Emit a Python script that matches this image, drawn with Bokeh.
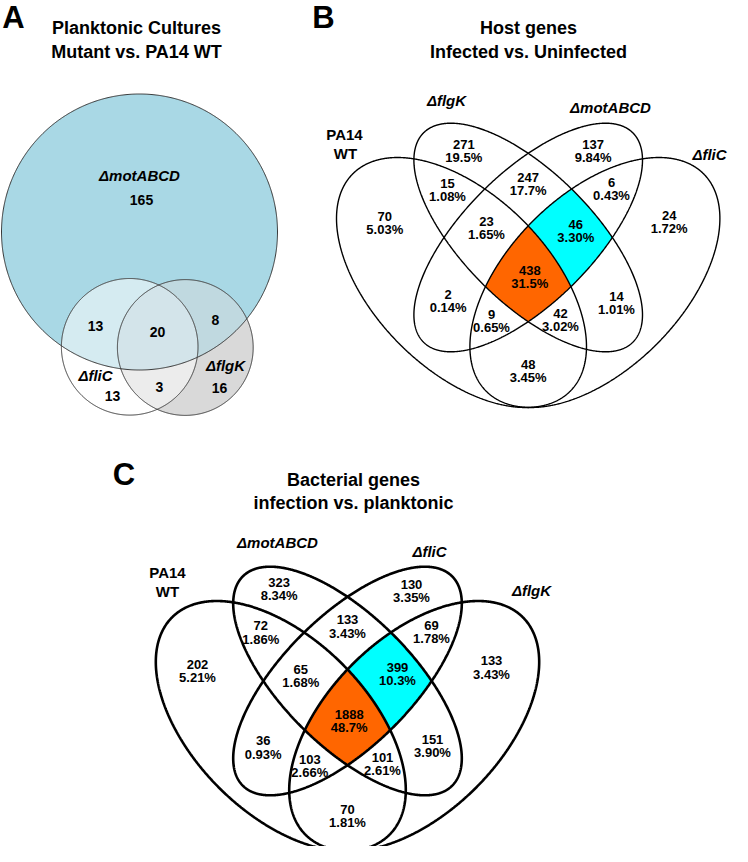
import numpy as np
from bokeh.plotting import figure
from bokeh.models import Range1d, ColumnDataSource
from bokeh.core.properties import value
from bokeh.embed import file_html
from bokeh.resources import INLINE

# ---------------- data ----------------
A_title = ["Planktonic Cultures", "Mutant vs. PA14 WT"]
A_sets = ["ΔmotABCD", "ΔfliC", "ΔflgK"]
# regions: mot only, mot&fliC, all three, mot&flgK, fliC only, fliC&flgK, flgK only
A_counts = [165, 13, 20, 8, 13, 3, 16]

B_title = ["Host genes", "Infected vs. Uninfected"]
B_sets = ["PA14", "WT", "ΔflgK", "ΔmotABCD", "ΔfliC"]
# region order: W, K, M, F, WK, KM, MF, WKM, KMF, WKMF, WM, KF, WMF, WKF, WF
B_counts = [70, 271, 137, 24, 15, 247, 6, 23, 46, 438, 2, 14, 9, 42, 48]
B_pcts = ["5.03%", "19.5%", "9.84%", "1.72%", "1.08%", "17.7%", "0.43%", "1.65%",
          "3.30%", "31.5%", "0.14%", "1.01%", "0.65%", "3.02%", "3.45%"]

C_title = ["Bacterial genes", "infection vs. planktonic"]
C_sets = ["PA14", "WT", "ΔmotABCD", "ΔfliC", "ΔflgK"]
C_counts = [202, 323, 130, 133, 72, 133, 69, 65, 399, 1888, 36, 151, 103, 101, 70]
C_pcts = ["5.21%", "8.34%", "3.35%", "3.43%", "1.86%", "3.43%", "1.78%", "1.68%",
          "10.3%", "48.7%", "0.93%", "3.90%", "2.66%", "2.61%", "1.81%"]

panel_letters = ["A", "B", "C"]

# ---------------- layout (pixel geometry) ----------------
FONT = value("Liberation Sans")

A_circles = [(147, 239.5, 138), (137.2, 354.3, 68.3), (192.8, 355, 67.9)]
A_set_pos = [(147, 183), (103, 383), (233, 373)]
A_num_pos = [(149, 207), (103, 333), (165, 339), (223, 327), (120, 403), (167, 394), (227, 395)]

B_ells = [(469.0, 290.0, 153.7, 87.3, 45), (535.7, 245.0, 148.0, 65.0, 45),
          (535.7, 245.0, 148.0, 65.0, -45), (602.4, 290.0, 153.7, 87.3, -45)]
C_off = (-180.7, 443.5)
C_ells = [(e[0] + C_off[0], e[1] + C_off[1], e[2], e[3], e[4]) for e in B_ells]

B_pos = [(392.3, 224), (471.3, 151.7), (600.7, 151.7), (676.7, 223.3), (455, 191),
         (535.7, 185), (619, 190), (494, 229.3), (583.3, 231.7), (537.3, 277.7),
         (455.7, 301.7), (624, 304.3), (499, 321.7), (568, 320.7), (535.7, 371.7)]
C_pos = [(205, 671.7), (286.7, 590), (419, 591.7), (499, 668.3), (268.3, 633.3),
         (355, 627.3), (439, 632.7), (308.3, 676.7), (405, 675), (356.7, 721.7),
         (270.7, 748.3), (440, 746.7), (317.3, 766.7), (390, 765), (355, 816.7)]
B_set_pos = [(352, 142), (353, 161), (454, 108), (618, 115), (717, 162)]
C_set_pos = [(175, 580), (175, 599), (285, 550), (437, 559), (539, 598)]
letter_pos = [(21, 25), (331, 25), (131.5, 482)]


def ell_pts(e, n=900):
    cx, cy, a, b, ang = e
    t = np.linspace(0, 2 * np.pi, n, endpoint=False)
    th = np.radians(ang)
    x = cx + a * np.cos(t) * np.cos(th) - b * np.sin(t) * np.sin(th)
    y = cy + a * np.cos(t) * np.sin(th) + b * np.sin(t) * np.cos(th)
    return np.column_stack([x, y])


def inside(p, e):
    cx, cy, a, b, ang = e
    th = np.radians(ang)
    dx = p[:, 0] - cx
    dy = p[:, 1] - cy
    u = dx * np.cos(th) + dy * np.sin(th)
    v = -dx * np.sin(th) + dy * np.cos(th)
    return (u / a) ** 2 + (v / b) ** 2 <= 1.0 + 1e-9


def intersect(ells):
    parts = []
    for i, e in enumerate(ells):
        p = ell_pts(e)
        m = np.ones(len(p), bool)
        for j, f in enumerate(ells):
            if j != i:
                m &= inside(p, f)
        parts.append(p[m])
    P = np.vstack(parts)
    c = P.mean(axis=0)
    order = np.argsort(np.arctan2(P[:, 1] - c[1], P[:, 0] - c[0]))
    return P[order]


def circ(c):
    return (c[0], c[1], c[2], c[2], 0)


p = figure(width=732, height=846, x_range=Range1d(8, 740), y_range=Range1d(854, 8),
           output_backend="svg", toolbar_location=None, x_axis_type=None, y_axis_type=None,
           min_border=0, min_border_left=0, min_border_right=0, min_border_top=0,
           min_border_bottom=0)
p.grid.visible = False
p.outline_line_color = None
p.background_fill_color = "white"


def fill(poly, color):
    p.patch(poly[:, 0], poly[:, 1], fill_color=color, line_color=None)


def outline(e, width, color="black"):
    q = ell_pts(e)
    q = np.vstack([q, q[:1]])
    p.line(q[:, 0], q[:, 1], line_color=color, line_width=width)


def texts(xs, ys, ts, size, style="bold", color="black"):
    src = ColumnDataSource(dict(x=xs, y=ys, t=ts))
    p.text("x", "y", text="t", source=src, text_font=FONT, text_font_style=style,
           text_font_size=size, text_align="center", text_baseline="middle",
           text_color=color)


# ---------------- panel A ----------------
mot, fli, flg = [circ(c) for c in A_circles]
fill(ell_pts(mot), "#a9d8e5")
fill(ell_pts(flg), "#d9d9d9")
fill(intersect([mot, flg]), "#c0d9e0")
fill(ell_pts(fli), "#ffffff")
fill(intersect([mot, fli]), "#d5ebf1")
fill(intersect([fli, flg]), "#ececec")
fill(intersect([mot, fli, flg]), "#d3e4ea")
for e in (mot, fli, flg):
    outline(e, 1.0, "#333333")

texts([q[0] for q in A_set_pos], [q[1] for q in A_set_pos], A_sets, "15px", "bold italic")
texts([q[0] for q in A_num_pos], [q[1] for q in A_num_pos], [str(c) for c in A_counts], "14px")

# ---------------- panels B, C ----------------
for ells, pos, counts, pcts, lw, gap in ((B_ells, B_pos, B_counts, B_pcts, 1.4, 13.0),
                                         (C_ells, C_pos, C_counts, C_pcts, 2.6, 13.3)):
    fill(intersect(ells[1:]), "#00ffff")
    fill(intersect(ells), "#ff6600")
    for e in ells:
        outline(e, lw)
    texts([q[0] for q in pos], [q[1] for q in pos], [str(c) for c in counts], "13px")
    texts([q[0] for q in pos], [q[1] + gap for q in pos], pcts, "13px")

texts([q[0] for q in B_set_pos[:2]], [q[1] for q in B_set_pos[:2]], B_sets[:2], "15px")
texts([q[0] for q in B_set_pos[2:]], [q[1] for q in B_set_pos[2:]], B_sets[2:], "15px", "bold italic")
texts([q[0] for q in C_set_pos[:2]], [q[1] for q in C_set_pos[:2]], C_sets[:2], "15px")
texts([q[0] for q in C_set_pos[2:]], [q[1] for q in C_set_pos[2:]], C_sets[2:], "15px", "bold italic")

# titles and panel letters
texts([144, 144, 536, 536, 361, 361], [35, 59, 35, 59, 487, 510],
      A_title + B_title + C_title, "18px")
texts([q[0] for q in letter_pos], [q[1] for q in letter_pos], panel_letters, "31px")

open("out.html", "w").write(file_html(p, INLINE))
